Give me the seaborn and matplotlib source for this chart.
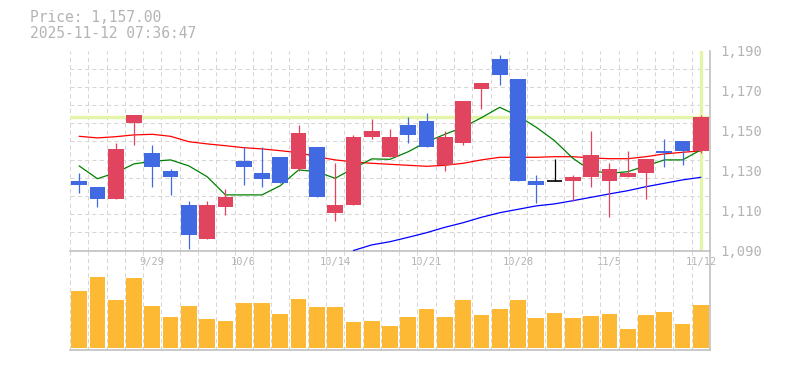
import numpy as np
import pandas as pd
import matplotlib
matplotlib.use('Agg')
import matplotlib.pyplot as plt
import seaborn as sns

# Daily candles, 9/22 .. 11/12
dates = ['9/22', '9/24', '9/25', '9/26', '9/29', '9/30', '10/1', '10/2', '10/3', '10/6',
         '10/7', '10/8', '10/9', '10/10', '10/14', '10/15', '10/16', '10/17', '10/20', '10/21',
         '10/22', '10/23', '10/24', '10/27', '10/28', '10/29', '10/30', '10/31', '11/4', '11/5',
         '11/6', '11/7', '11/10', '11/11', '11/12']
open_ = [1125, 1122, 1116, 1154, 1139, 1130, 1113, 1096, 1112, 1135,
         1129, 1137, 1131, 1142, 1109, 1113, 1147, 1137, 1153, 1155,
         1133, 1144, 1171, 1186, 1176, 1125, 1125, 1125, 1127, 1125,
         1127, 1129, 1140, 1145, 1140]
high = [1129, 1122, 1144, 1158, 1143, 1131, 1115, 1115, 1121, 1142,
        1142, 1137, 1153, 1142, 1134, 1148, 1156, 1151, 1157, 1159,
        1150, 1165, 1174, 1188, 1176, 1128, 1136, 1128, 1150, 1134,
        1140, 1136, 1146, 1145, 1158]
low = [1119, 1112, 1116, 1143, 1122, 1118, 1091, 1096, 1108, 1123,
       1122, 1124, 1130, 1117, 1105, 1113, 1146, 1137, 1144, 1142,
       1130, 1143, 1161, 1173, 1125, 1114, 1125, 1115, 1122, 1107,
       1127, 1116, 1132, 1133, 1139]
close = [1123, 1116, 1141, 1158, 1132, 1127, 1098, 1113, 1117, 1132,
         1126, 1124, 1149, 1117, 1113, 1147, 1150, 1147, 1148, 1142,
         1147, 1165, 1174, 1178, 1125, 1123, 1125, 1127, 1138, 1131,
         1129, 1136, 1139, 1140, 1157]
# volume (thousand shares)
volume = [57.3, 71.3, 48.3, 70.3, 42.3, 31.3, 42.3, 29.3, 27.3, 45.3,
          45.3, 34.3, 49.3, 41.3, 41.3, 26.3, 27.3, 22.3, 31.3, 39.3,
          31.3, 48.3, 33.3, 39.3, 48.3, 30.3, 35.3, 30.3, 32.3, 34.3,
          19.3, 33.3, 36.3, 24.3, 43.3]
# moving averages
ma5 = [1132.3, 1125.9, 1128.9, 1133.3, 1134.6, 1135.3, 1132.3, 1126.9, 1117.8, 1117.8,
       1117.8, 1122.4, 1130.3, 1129.4, 1126.1, 1131.1, 1135.8, 1135.6, 1139.4, 1144.3,
       1148.1, 1151.6, 1156.4, 1161.6, 1157.3, 1151.6, 1144.9, 1136.1, 1129.9, 1128.6,
       1129.4, 1132.3, 1135.3, 1135.3, 1140.3]
ma25 = [1147.1, 1146.3, 1146.9, 1147.8, 1148.1, 1147.1, 1144.4, 1143.3, 1142.4, 1141.4,
        1140.8, 1139.9, 1138.9, 1136.9, 1135.3, 1134.3, 1133.6, 1133.1, 1132.6, 1132.1,
        1132.6, 1133.6, 1135.3, 1136.6, 1136.6, 1136.6, 1136.9, 1136.9, 1136.3, 1135.9,
        1135.9, 1136.9, 1138.3, 1139.1, 1139.8]
ma75 = [np.nan] * 15 + [1090.0, 1092.8, 1094.4, 1096.6, 1098.9,
                        1101.6, 1103.9, 1106.6, 1108.9, 1110.6, 1112.3, 1113.3, 1114.9, 1116.6, 1118.3,
                        1119.9, 1121.9, 1123.6, 1125.3, 1126.6]

last_price = 1157.00
timestamp = '2025-11-12 07:36:47'
price_ticks = [1090, 1110, 1130, 1150, 1170, 1190]

UP = '#e0445f'
DOWN = '#4169e1'
VOL = '#fdb933'
LIME = '#e3f5a8'
GRID = '#d6d6d6'
SPINE = '#c0c0c0'
TXT = '#b4b4b4'

sns.set_style('white')
plt.rcParams['font.family'] = ['DejaVu Sans Mono']

df = pd.DataFrame({'date': dates, 'open': open_, 'high': high, 'low': low,
                   'close': close, 'volume': volume,
                   'ma5': ma5, 'ma25': ma25, 'ma75': ma75})
df['idx'] = np.arange(len(df))
n = len(df)

fig = plt.figure(figsize=(7.85, 3.70), dpi=100)
W, H = 785, 370
ax = fig.add_axes([70 / W, 1 - 250.5 / H, 640 / W, 200 / H])
axv = fig.add_axes([70 / W, 1 - 350 / H, 640 / W, 99.5 / H])
axv.patch.set_visible(False)

# --- price panel ---
ax.axhline(last_price, color=LIME, lw=2.4, zorder=2)
ax.axvline(n - 1, color=LIME, lw=2.4, zorder=2)

sns.lineplot(data=df, x='idx', y='ma25', color='#ff0000', lw=0.9, ax=ax, zorder=3)
sns.lineplot(data=df, x='idx', y='ma5', color='#008000', lw=0.9, ax=ax, zorder=3)
sns.lineplot(data=df.dropna(subset=['ma75']), x='idx', y='ma75', color='#0000ff',
             lw=0.9, ax=ax, zorder=3)

colors = np.where(df['close'] > df['open'], UP,
                  np.where(df['close'] < df['open'], DOWN, 'black'))
body_lo = df[['open', 'close']].min(axis=1)
body_h = (df['close'] - df['open']).abs()
ax.vlines(df['idx'], df['low'], df['high'], colors=colors, lw=0.9, zorder=4)
ax.bar(df['idx'], body_h, bottom=body_lo, width=0.86, color=colors, lw=0, zorder=5)
doji = df[df['close'] == df['open']]
ax.hlines(doji['close'], doji['idx'] - 0.43, doji['idx'] + 0.43, colors='black', lw=1.2, zorder=5)

ax.set_xlim(-0.5, n - 0.5)
ax.set_ylim(1090, 1190)
ax.set(xlabel='', ylabel='')

ax.set_xticks(df['idx'][4::5])
ax.set_xticklabels(dates[4::5])
ax.set_xticks(np.arange(-0.5, n, 1), minor=True)
ax.yaxis.tick_right()
ax.set_yticks(price_ticks)
ax.set_yticklabels([f'{v:,}' for v in price_ticks])
ax.set_yticks(np.linspace(1090, 1190, 12), minor=True)
ax.tick_params(axis='x', which='both', length=0, pad=4.5, labelsize=7.5, labelcolor=TXT)
ax.tick_params(axis='y', which='both', length=0, pad=7.5, labelsize=10, labelcolor=TXT)
ax.grid(False, which='major')
ax.grid(True, which='minor', color=GRID, lw=0.75, linestyle=(0, (4, 3)))
ax.set_axisbelow(True)

for s in ['left', 'top']:
    ax.spines[s].set_visible(False)
for s in ['right', 'bottom']:
    ax.spines[s].set_color(SPINE)
    ax.spines[s].set_linewidth(1.2)

# --- volume panel ---
sns.barplot(x=df['idx'], y=df['volume'], color=VOL, width=0.86, saturation=1,
            lw=0, ax=axv, zorder=3)
axv.set_xlim(-0.5, n - 0.5)
axv.set_ylim(-2, 97.5)
axv.set(xlabel='', ylabel='')
axv.set_xticks([])
axv.set_yticks([])
axv.set_xticks(np.arange(-0.5, n, 1), minor=True)
axv.tick_params(which='both', length=0, labelbottom=False)
axv.grid(True, which='minor', axis='x', color=GRID, lw=0.75, linestyle=(0, (4, 3)))
axv.set_axisbelow(True)
for s in ['left', 'top']:
    axv.spines[s].set_visible(False)
for s in ['right', 'bottom']:
    axv.spines[s].set_color(SPINE)
    axv.spines[s].set_linewidth(1.2)

# header
fig.text(30 / W, 1 - 17.5 / H, f'Price: {last_price:,.2f}', fontsize=10.5, color=TXT, va='center')
fig.text(30 / W, 1 - 33 / H, timestamp, fontsize=10.5, color=TXT, va='center')

fig.savefig('out.png', dpi=100)
